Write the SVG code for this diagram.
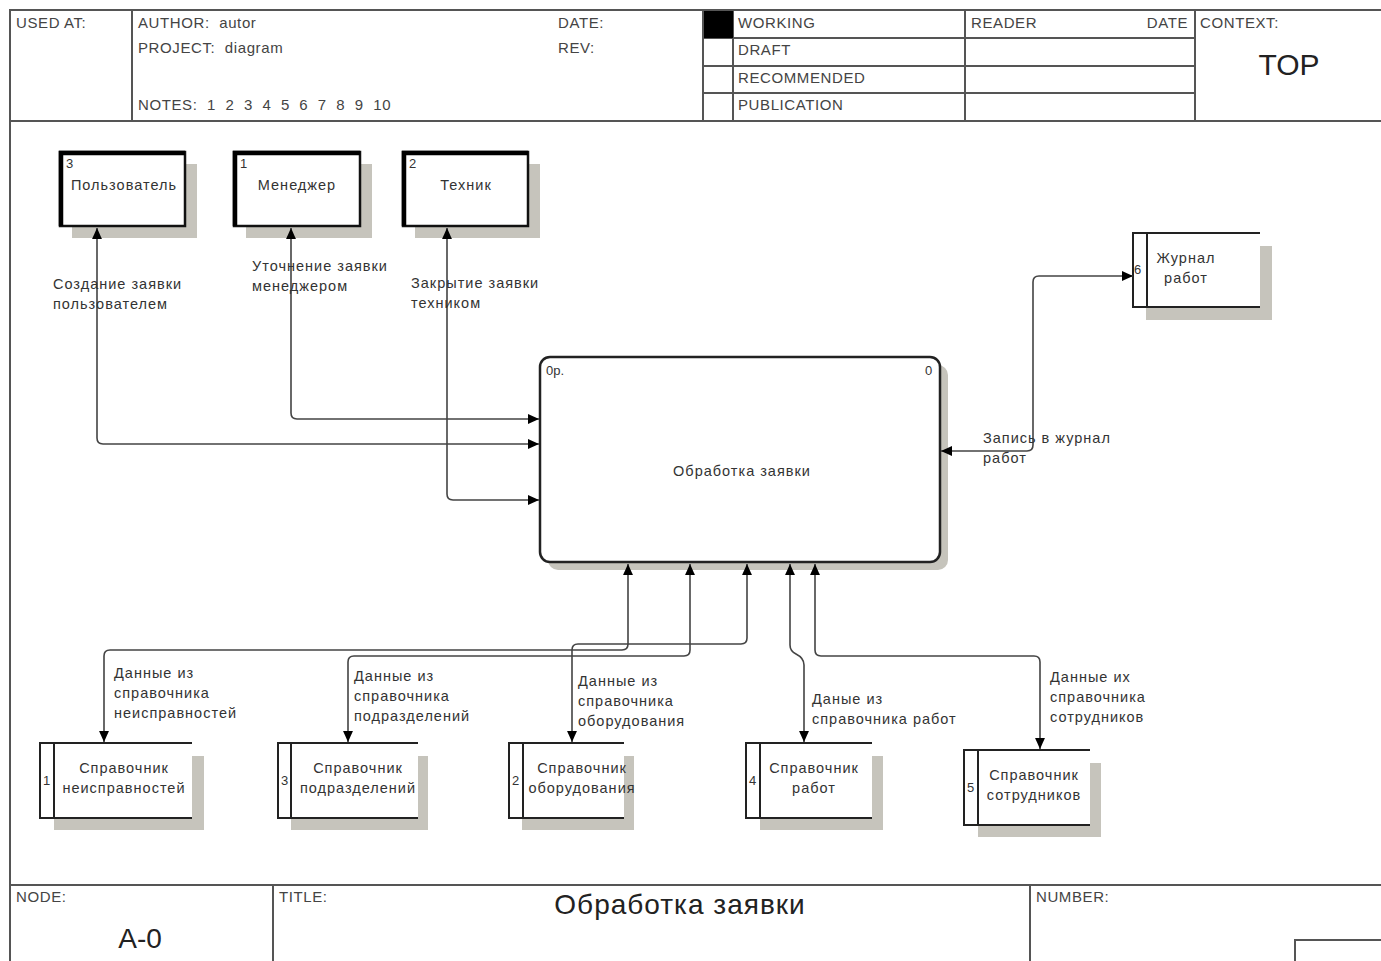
<svg xmlns="http://www.w3.org/2000/svg" width="1381" height="961" viewBox="0 0 1381 961">
<style>
  .frame{fill:none;stroke:#555;stroke-width:2}
  .hdr{font-family:"Liberation Sans",Arial,sans-serif;font-size:15px;fill:#444;letter-spacing:0.6px;white-space:pre}
  .lbl{font-family:"Liberation Sans",Arial,sans-serif;font-size:14.5px;fill:#333;letter-spacing:1px}
  .num{font-family:"Liberation Sans",Arial,sans-serif;font-size:13px;fill:#333}
  .big{font-family:"Liberation Sans",Arial,sans-serif;fill:#222}
  .shadow{fill:#c6c4bc}
  .ent{fill:#fff;stroke:#111;stroke-width:2.5}
  .entthick{stroke:#000;stroke-width:4.5;fill:none}
  .store{fill:#fff;stroke:none}
  .storeln{fill:none;stroke:#222;stroke-width:2}
  .conn{fill:none;stroke:#444;stroke-width:1.6;marker-start:url(#ah);marker-end:url(#ah)}
  .c{text-anchor:middle}
</style>
<defs>
  <marker id="ah" viewBox="0 0 10 10" refX="10" refY="5" markerWidth="11" markerHeight="11" markerUnits="userSpaceOnUse" orient="auto-start-reverse">
    <path d="M0,0.5 L10,5 L0,9.5 z" fill="#000"/>
  </marker>
</defs>
<rect width="1381" height="961" fill="#fff"/>

<g id="frame">
  <path class="frame" d="M10,961 V10 H1381 M10,121 H1381 M10,885 H1381"/>
  <path class="frame" d="M132,10 V121 M703,10 V121 M733,10 V121 M965,10 V121 M1195,10 V121 M703,38 H1195 M703,66 H1195 M703,93 H1195"/>
  <rect x="704" y="11" width="29" height="27" fill="#000"/>
  <path class="frame" d="M273,885 V961 M1030,885 V961 M1295,961 V940 H1381"/>
  <text class="hdr" x="16" y="28">USED AT:</text>
  <text class="hdr" x="138" y="28">AUTHOR:  autor</text>
  <text class="hdr" x="138" y="53">PROJECT:  diagram</text>
  <text class="hdr" x="138" y="110">NOTES:  1  2  3  4  5  6  7  8  9  10</text>
  <text class="hdr" x="558" y="28">DATE:</text>
  <text class="hdr" x="558" y="53">REV:</text>
  <text class="hdr" x="738" y="28">WORKING</text>
  <text class="hdr" x="738" y="55">DRAFT</text>
  <text class="hdr" x="738" y="83">RECOMMENDED</text>
  <text class="hdr" x="738" y="110">PUBLICATION</text>
  <text class="hdr" x="971" y="28">READER</text>
  <text class="hdr" x="1188" y="28" text-anchor="end">DATE</text>
  <text class="hdr" x="1200" y="28">CONTEXT:</text>
  <text class="big c" x="1289" y="75" font-size="30">TOP</text>
  <text class="hdr" x="16" y="902">NODE:</text>
  <text class="big c" x="140" y="948" font-size="28">A-0</text>
  <text class="hdr" x="279" y="902">TITLE:</text>
  <text class="big c" x="680" y="914" font-size="28" letter-spacing="1">Обработка заявки</text>
  <text class="hdr" x="1036" y="902">NUMBER:</text>
</g>

<g id="node-main">
  <rect class="shadow" x="548" y="365" width="400" height="205" rx="10"/>
  <rect x="540" y="357" width="400" height="205" rx="10" fill="#fff" stroke="#222" stroke-width="2.5"/>
  <text class="num" x="546" y="375">0р.</text>
  <text class="num" x="925" y="375">0</text>
  <text class="lbl c" x="742" y="476">Обработка заявки</text>
</g>

<g id="ent-user">
  <rect class="shadow" x="72" y="164" width="125" height="74"/>
  <rect class="ent" x="60" y="152" width="125" height="74"/>
  <path class="entthick" d="M61,226 V153 H185"/>
  <text class="num" x="66" y="168">3</text>
  <text class="lbl c" x="124" y="190">Пользователь</text>
</g>
<g id="ent-manager">
  <rect class="shadow" x="246" y="164" width="126" height="74"/>
  <rect class="ent" x="234" y="152" width="126" height="74"/>
  <path class="entthick" d="M235,226 V153 H360"/>
  <text class="num" x="240" y="168">1</text>
  <text class="lbl c" x="297" y="190">Менеджер</text>
</g>
<g id="ent-tech">
  <rect class="shadow" x="415" y="164" width="125" height="74"/>
  <rect class="ent" x="403" y="152" width="125" height="74"/>
  <path class="entthick" d="M404,226 V153 H528"/>
  <text class="num" x="409" y="168">2</text>
  <text class="lbl c" x="466" y="190">Техник</text>
</g>

<g id="store-journal">
  <rect class="shadow" x="1146" y="246" width="126" height="74"/>
  <rect class="store" x="1133" y="233" width="127" height="74"/>
  <path class="storeln" d="M1260,233 H1133 V307 H1260 M1147,233 V307"/>
  <text class="num" x="1134" y="274">6</text>
  <text class="lbl c" x="1186" y="263">Журнал</text>
  <text class="lbl c" x="1186" y="283">работ</text>
</g>

<g id="store-neispr">
  <rect class="shadow" x="54" y="756" width="150" height="74"/>
  <rect class="store" x="40" y="743" width="152" height="75"/>
  <path class="storeln" d="M192,743 H40 V818 H192 M54,743 V818"/>
  <text class="num" x="43" y="785">1</text>
  <text class="lbl c" x="124" y="773">Справочник</text>
  <text class="lbl c" x="124" y="793">неисправностей</text>
</g>
<g id="store-podr">
  <rect class="shadow" x="291" y="756" width="137" height="74"/>
  <rect class="store" x="278" y="743" width="140" height="75"/>
  <path class="storeln" d="M418,743 H278 V818 H418 M291,743 V818"/>
  <text class="num" x="281" y="785">3</text>
  <text class="lbl c" x="358" y="773">Справочник</text>
  <text class="lbl c" x="358" y="793">подразделений</text>
</g>
<g id="store-obor">
  <rect class="shadow" x="522" y="756" width="112" height="74"/>
  <rect class="store" x="509" y="743" width="115" height="75"/>
  <path class="storeln" d="M624,743 H509 V818 H624 M523,743 V818"/>
  <text class="num" x="512" y="785">2</text>
  <text class="lbl c" x="582" y="773">Справочник</text>
  <text class="lbl c" x="582" y="793">оборудования</text>
</g>
<g id="store-rabot">
  <rect class="shadow" x="760" y="756" width="123" height="74"/>
  <rect class="store" x="746" y="743" width="126" height="75"/>
  <path class="storeln" d="M872,743 H746 V818 H872 M760,743 V818"/>
  <text class="num" x="749" y="785">4</text>
  <text class="lbl c" x="814" y="773">Справочник</text>
  <text class="lbl c" x="814" y="793">работ</text>
</g>
<g id="store-sotr">
  <rect class="shadow" x="978" y="763" width="123" height="74"/>
  <rect class="store" x="964" y="750" width="126" height="75"/>
  <path class="storeln" d="M1090,750 H964 V825 H1090 M978,750 V825"/>
  <text class="num" x="967" y="792">5</text>
  <text class="lbl c" x="1034" y="780">Справочник</text>
  <text class="lbl c" x="1034" y="800">сотрудников</text>
</g>

<g id="connectors">
  <path class="conn" d="M97,228 V438 Q97,444 103,444 H539"/>
  <path class="conn" d="M291,228 V413 Q291,419 297,419 H539"/>
  <path class="conn" d="M447,228 V494 Q447,500 453,500 H539"/>
  <path class="conn" d="M941,451 H1027 Q1033,451 1033,445 V282 Q1033,276 1039,276 H1133"/>
  <path class="conn" d="M628,564 V644 Q628,650 622,650 H110 Q104,650 104,656 V742"/>
  <path class="conn" d="M690,564 V650 Q690,656 684,656 H354 Q348,656 348,662 V742"/>
  <path class="conn" d="M747,564 V638 Q747,644 741,644 H578 Q572,644 572,650 V742"/>
  <path class="conn" d="M790,564 V645 Q790,651 796,654 Q804,658 804,665 V742"/>
  <path class="conn" d="M815,564 V650 Q815,656 821,656 H1034 Q1040,656 1040,662 V749"/>
  <text class="lbl" x="53" y="289">Создание заявки</text>
  <text class="lbl" x="53" y="309">пользователем</text>
  <text class="lbl" x="252" y="271">Уточнение заявки</text>
  <text class="lbl" x="252" y="291">менеджером</text>
  <text class="lbl" x="411" y="288">Закрытие заявки</text>
  <text class="lbl" x="411" y="308">техником</text>
  <text class="lbl" x="983" y="443">Запись в журнал</text>
  <text class="lbl" x="983" y="463">работ</text>
  <text class="lbl" x="114" y="678">Данные из</text>
  <text class="lbl" x="114" y="698">справочника</text>
  <text class="lbl" x="114" y="718">неисправностей</text>
  <text class="lbl" x="354" y="681">Данные из</text>
  <text class="lbl" x="354" y="701">справочника</text>
  <text class="lbl" x="354" y="721">подразделений</text>
  <text class="lbl" x="578" y="686">Данные из</text>
  <text class="lbl" x="578" y="706">справочника</text>
  <text class="lbl" x="578" y="726">оборудования</text>
  <text class="lbl" x="812" y="704">Даные из</text>
  <text class="lbl" x="812" y="724">справочника работ</text>
  <text class="lbl" x="1050" y="682">Данные их</text>
  <text class="lbl" x="1050" y="702">справочника</text>
  <text class="lbl" x="1050" y="722">сотрудников</text>
</g>
</svg>
